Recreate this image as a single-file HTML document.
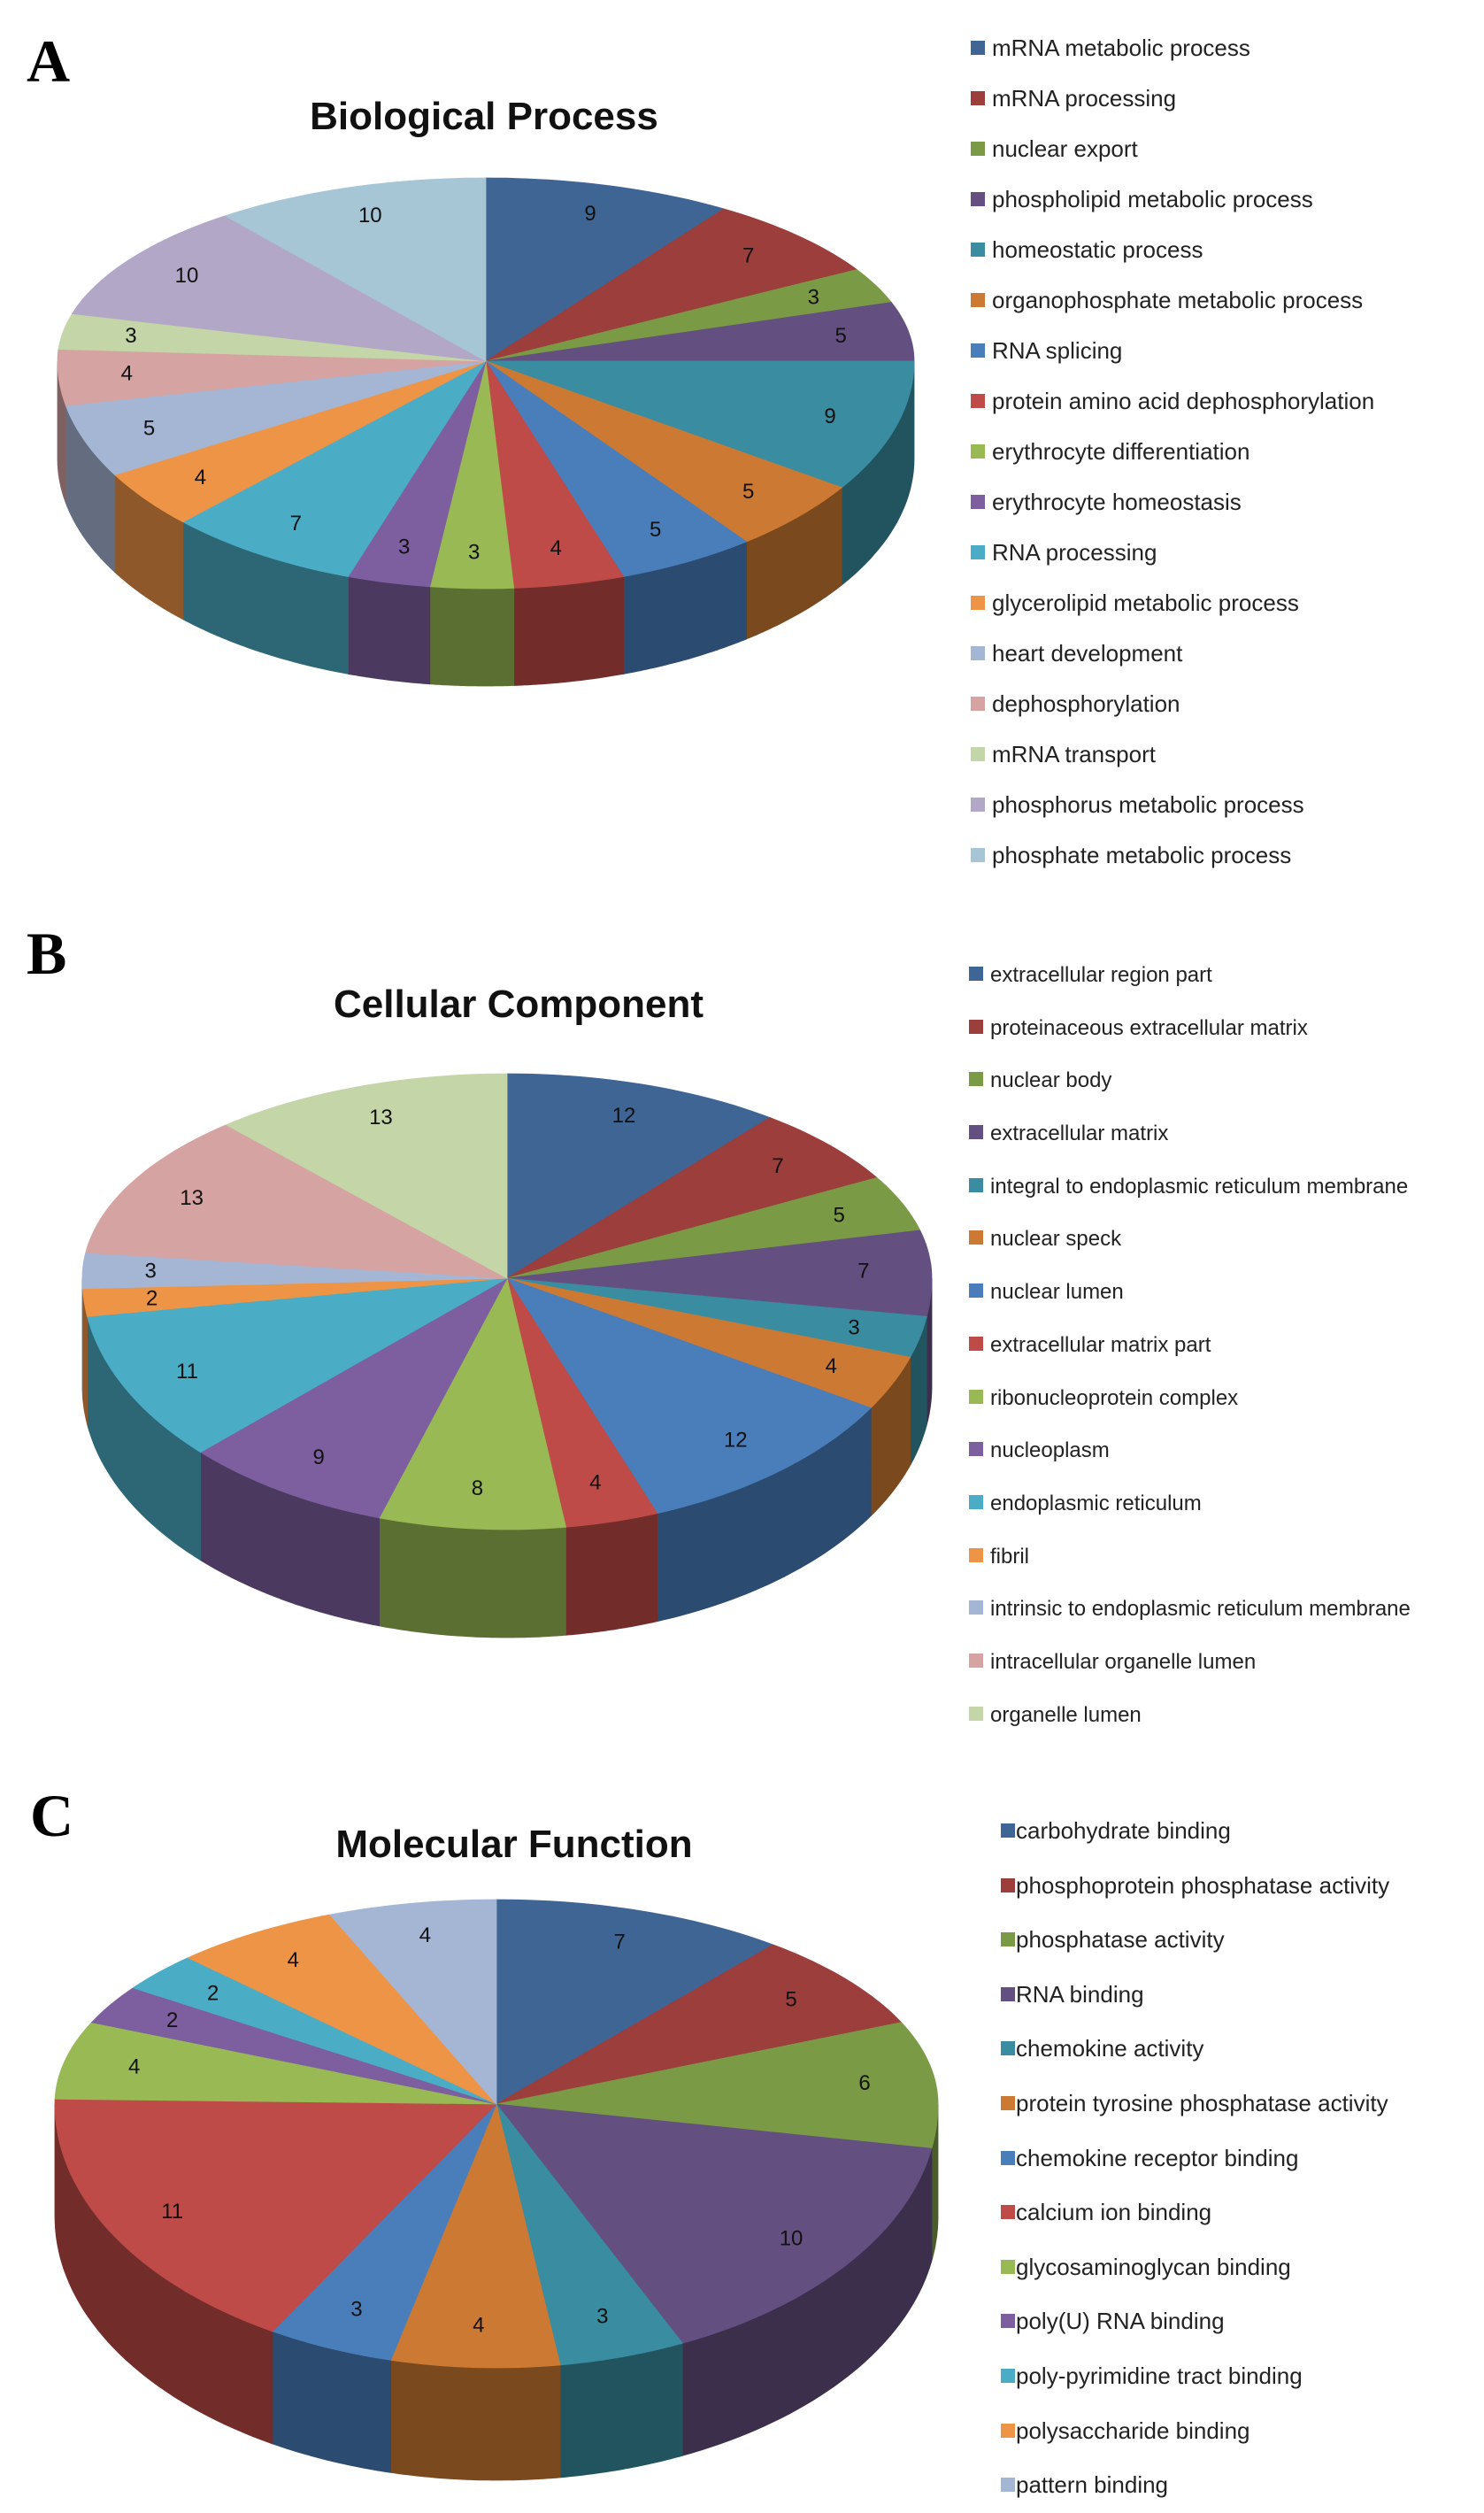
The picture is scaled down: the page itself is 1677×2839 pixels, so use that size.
<!DOCTYPE html>
<html><head><meta charset="utf-8">
<style>
html,body{margin:0;padding:0;background:#fff;}
svg{display:block;}
.lg{font-family:"Liberation Sans",sans-serif;fill:#222;}
.ttl{font-family:"Liberation Sans",sans-serif;font-weight:bold;font-size:44px;fill:#111;}
.let{font-family:"Liberation Serif",serif;font-weight:bold;font-size:68px;fill:#000;}
.num{font-family:"Liberation Sans",sans-serif;font-size:24px;fill:#111;text-anchor:middle;dominant-baseline:central;}
</style></head>
<body>
<svg id="s" width="1677" height="2839" viewBox="0 0 1677 2839" xmlns="http://www.w3.org/2000/svg">
<g id="shapes"></g>
<text class="let" x="30" y="92">A</text>
<text class="ttl" x="547" y="146" text-anchor="middle">Biological Process</text>
<text class="let" x="30" y="1100">B</text>
<text class="ttl" x="586" y="1149" text-anchor="middle">Cellular Component</text>
<text class="let" x="34" y="2074">C</text>
<text class="ttl" x="581" y="2098" text-anchor="middle">Molecular Function</text>

<g id="labA"><text class="num">9</text><text class="num">7</text><text class="num">3</text><text class="num">5</text><text class="num">9</text><text class="num">5</text><text class="num">5</text><text class="num">4</text><text class="num">3</text><text class="num">3</text><text class="num">7</text><text class="num">4</text><text class="num">5</text><text class="num">4</text><text class="num">3</text><text class="num">10</text><text class="num">10</text></g>
<g id="labB"><text class="num">12</text><text class="num">7</text><text class="num">5</text><text class="num">7</text><text class="num">3</text><text class="num">4</text><text class="num">12</text><text class="num">4</text><text class="num">8</text><text class="num">9</text><text class="num">11</text><text class="num">2</text><text class="num">3</text><text class="num">13</text><text class="num">13</text></g>
<g id="labC"><text class="num">7</text><text class="num">5</text><text class="num">6</text><text class="num">10</text><text class="num">3</text><text class="num">4</text><text class="num">3</text><text class="num">11</text><text class="num">4</text><text class="num">2</text><text class="num">2</text><text class="num">4</text><text class="num">4</text></g>

<g class="lg" font-size="26" id="legA">
<text x="1121" y="63">mRNA metabolic process</text>
<text x="1121" y="120">mRNA processing</text>
<text x="1121" y="177">nuclear export</text>
<text x="1121" y="234">phospholipid metabolic process</text>
<text x="1121" y="291">homeostatic process</text>
<text x="1121" y="348">organophosphate metabolic process</text>
<text x="1121" y="405">RNA splicing</text>
<text x="1121" y="462">protein amino acid dephosphorylation</text>
<text x="1121" y="519">erythrocyte differentiation</text>
<text x="1121" y="576">erythrocyte homeostasis</text>
<text x="1121" y="633">RNA processing</text>
<text x="1121" y="690">glycerolipid metabolic process</text>
<text x="1121" y="747">heart development</text>
<text x="1121" y="804">dephosphorylation</text>
<text x="1121" y="861">mRNA transport</text>
<text x="1121" y="918">phosphorus metabolic process</text>
<text x="1121" y="975">phosphate metabolic process</text>
</g>
<g class="lg" font-size="24" id="legB">
<text x="1119" y="1109">extracellular region part</text>
<text x="1119" y="1169">proteinaceous extracellular matrix</text>
<text x="1119" y="1228">nuclear body</text>
<text x="1119" y="1288">extracellular matrix</text>
<text x="1119" y="1348">integral to endoplasmic reticulum membrane</text>
<text x="1119" y="1407">nuclear speck</text>
<text x="1119" y="1467">nuclear lumen</text>
<text x="1119" y="1527">extracellular matrix part</text>
<text x="1119" y="1587">ribonucleoprotein complex</text>
<text x="1119" y="1646">nucleoplasm</text>
<text x="1119" y="1706">endoplasmic reticulum</text>
<text x="1119" y="1766">fibril</text>
<text x="1119" y="1825">intrinsic to endoplasmic reticulum membrane</text>
<text x="1119" y="1885">intracellular organelle lumen</text>
<text x="1119" y="1945">organelle lumen</text>
</g>
<g class="lg" font-size="26" id="legC">
<text x="1148" y="2077">carbohydrate binding</text>
<text x="1148" y="2139">phosphoprotein phosphatase  activity</text>
<text x="1148" y="2200">phosphatase activity</text>
<text x="1148" y="2262">RNA binding</text>
<text x="1148" y="2323">chemokine activity</text>
<text x="1148" y="2385">protein tyrosine phosphatase activity</text>
<text x="1148" y="2447">chemokine receptor binding</text>
<text x="1148" y="2508">calcium ion binding</text>
<text x="1148" y="2570">glycosaminoglycan binding</text>
<text x="1148" y="2631">poly(U) RNA binding</text>
<text x="1148" y="2693">poly-pyrimidine tract binding</text>
<text x="1148" y="2755">polysaccharide binding</text>
<text x="1148" y="2816">pattern binding</text>
</g>
</svg>
<script>
var P=["#3F6595","#9B3E3C","#7B9A45","#634F80","#3A8CA0","#CC7A33","#4A7EBB","#BE4B48","#98B954","#7D5FA0","#4BACC6","#EE9446","#A5B6D5","#D4A3A2","#C4D5A8","#B3A7C7","#A6C6D6"];
var PC=["#3F6595","#9B3E3C","#7B9A45","#634F80","#3A8CA0","#CC7A33","#4A7EBB","#BE4B48","#98B954","#7D5FA0","#4BACC6","#EE9446","#A5B6D5"];
var PB=["#3F6595","#9B3E3C","#7B9A45","#634F80","#3A8CA0","#CC7A33","#4A7EBB","#BE4B48","#98B954","#7D5FA0","#4BACC6","#EE9446","#A5B6D5","#D4A3A2","#C4D5A8"];
var charts=[
{cx:549,cy:408,rx:484,rt:207,rb:257,d:110,v:[9,7,3,5,9,5,5,4,3,3,7,4,5,4,3,10,10],c:P,lab:"labA",leg:"legA",sx:1097,ss:16},
{cx:573,cy:1444,rx:480,rt:231,rb:284,d:122,v:[12,7,5,7,3,4,12,4,8,9,11,2,3,13,13],c:PB,lab:"labB",leg:"legB",sx:1095,ss:16},
{cx:561,cy:2377,rx:499,rt:231,rb:298,d:127,v:[7,5,6,10,3,4,3,11,4,2,2,4,4],c:PC,lab:"labC",leg:"legC",sx:1131,ss:16}];
var NS="http://www.w3.org/2000/svg",G=document.getElementById("shapes");
function pt(c,t,s){var co=Math.cos(t);return [c.cx+c.rx*Math.sin(t)*s,c.cy-(co>0?c.rt:c.rb)*co*s];}
function dark(h,f){var n=parseInt(h.slice(1),16);var r=(n>>16)*f|0,g=((n>>8)&255)*f|0,b=(n&255)*f|0;return "rgb("+r+","+g+","+b+")";}
function poly(pts,fill){var p=document.createElementNS(NS,"path");p.setAttribute("d","M"+pts.map(function(q){return q[0].toFixed(1)+","+q[1].toFixed(1)}).join("L")+"Z");p.setAttribute("fill",fill);p.setAttribute("stroke",fill);p.setAttribute("stroke-width","0.8");G.appendChild(p);}
charts.forEach(function(c){
 var tot=c.v.reduce(function(a,b){return a+b},0),acc=0,segs=[];
 c.v.forEach(function(v,i){var a=acc/tot*2*Math.PI;acc+=v;var b=acc/tot*2*Math.PI;segs.push([a,b,i]);});
 // sides
 segs.forEach(function(s){var a=Math.max(s[0],Math.PI/2),b=Math.min(s[1],1.5*Math.PI);if(b<=a)return;
  var top=[],N=40;for(var k=0;k<=N;k++){top.push(pt(c,a+(b-a)*k/N,1));}
  var bot=top.slice().reverse().map(function(q){return [q[0],q[1]+c.d];});
  var mid=(a+b)/2;var f=0.55+0.12*Math.sin(mid-Math.PI/2)*-1;poly(top.concat(bot),dark(c.c[s[2]],0.6));});
 // tops
 segs.forEach(function(s){var pts=[[c.cx,c.cy]],N=Math.max(6,Math.ceil((s[1]-s[0])*40));for(var k=0;k<=N;k++)pts.push(pt(c,s[0]+(s[1]-s[0])*k/N,1));poly(pts,c.c[s[2]]);});
 // labels
 var L=document.getElementById(c.lab).children;
 segs.forEach(function(s,i){var m=(s[0]+s[1])/2;var q=pt(c,m,0.84);L[i].setAttribute("x",q[0]);L[i].setAttribute("y",q[1]);});
 // legend squares
 var T=document.getElementById(c.leg).children;
 for(var i=0;i<T.length;i++){var y=+T[i].getAttribute("y");var r=document.createElementNS(NS,"rect");r.setAttribute("x",c.sx);r.setAttribute("y",y-17);r.setAttribute("width",c.ss);r.setAttribute("height",c.ss);r.setAttribute("fill",c.c[i]);G.appendChild(r);}
});
</script>
</body></html>
